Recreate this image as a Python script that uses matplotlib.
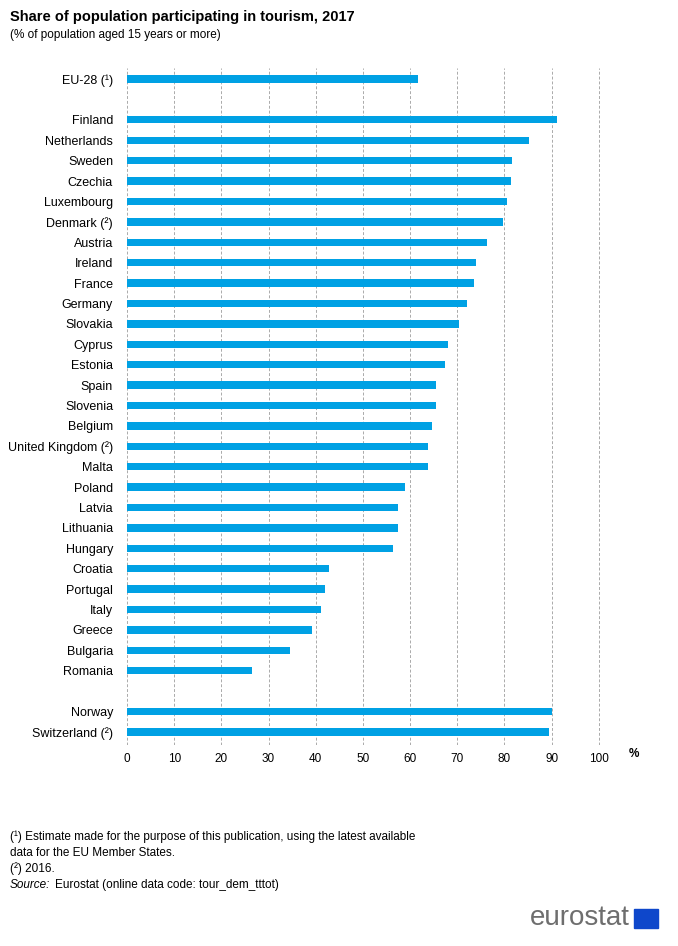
import matplotlib
matplotlib.use("Agg")
import matplotlib.pyplot as plt

plt.rcParams['font.family'] = ['Liberation Sans', 'DejaVu Sans']

eu_label = ["EU-28 (¹)"]
eu_value = [61.7]
countries = ["Finland", "Netherlands", "Sweden", "Czechia", "Luxembourg", "Denmark (²)",
             "Austria", "Ireland", "France", "Germany", "Slovakia", "Cyprus", "Estonia",
             "Spain", "Slovenia", "Belgium", "United Kingdom (²)", "Malta", "Poland",
             "Latvia", "Lithuania", "Hungary", "Croatia", "Portugal", "Italy", "Greece",
             "Bulgaria", "Romania"]
country_values = [91.1, 85.2, 81.6, 81.4, 80.5, 79.7, 76.3, 73.9, 73.5, 72.0, 70.3, 68.0,
                  67.4, 65.5, 65.5, 64.6, 63.8, 63.8, 58.9, 57.4, 57.4, 56.4, 42.8, 41.9,
                  41.1, 39.2, 34.5, 26.5]
efta = ["Norway", "Switzerland (²)"]
efta_values = [90.0, 89.4]
xticks = list(range(0, 101, 10))

labels = eu_label + countries + efta
values = eu_value + country_values + efta_values
pos = [0] + [2 + i for i in range(len(countries))] + [31, 32]

fig = plt.figure(figsize=(6.78, 9.46), dpi=100)
ax = fig.add_axes([127/678, 1-745/946, (620-127)/678, (745-68)/946])
ax.barh(pos, values, height=0.36, color='#00A1E4', zorder=3)
ax.set_yticks(pos)
ax.set_yticklabels(labels, fontsize=9)
ax.set_ylim(32.64, -0.54)
ax.set_xlim(0, 104.5)
ax.set_xticks(xticks)
ax.tick_params(axis='x', labelsize=8.5, length=0, pad=6)
ax.tick_params(axis='y', length=0, pad=10)
ax.grid(axis='x', linestyle=(0, (3, 2)), color='#AAAAAA', linewidth=0.7, zorder=0)
for s in ax.spines.values():
    s.set_visible(False)

fig.text(10/678, 1-17/946, "Share of population participating in tourism, 2017",
         fontsize=10.5, fontweight='bold', va='center')
fig.text(10/678, 1-35/946, "(% of population aged 15 years or more)", fontsize=8.5, va='center')
fig.text(634/678, 1-754/946, "%", fontsize=8.5, fontweight='bold', va='center', ha='center')

foot = 8.5
fig.text(10/678, 1-837/946, "(¹) Estimate made for the purpose of this publication, using the latest available",
         fontsize=foot, va='center')
fig.text(10/678, 1-853/946, "data for the EU Member States.", fontsize=foot, va='center')
fig.text(10/678, 1-869/946, "(²) 2016.", fontsize=foot, va='center')
fig.text(10/678, 1-885/946, "Source:", fontsize=foot, style='italic', va='center')
fig.text(55/678, 1-885/946, "Eurostat (online data code: tour_dem_tttot)", fontsize=foot, va='center')

fig.text(630/678, 1-918/946, "eurostat", fontsize=20, color='#6E6E6E', ha='right', va='center')
fig.patches.append(matplotlib.patches.Rectangle((634/678, 1-928/946), 24/678, 19/946,
                   transform=fig.transFigure, color='#0E47CB', figure=fig))

fig.savefig("out.png", dpi=100)
